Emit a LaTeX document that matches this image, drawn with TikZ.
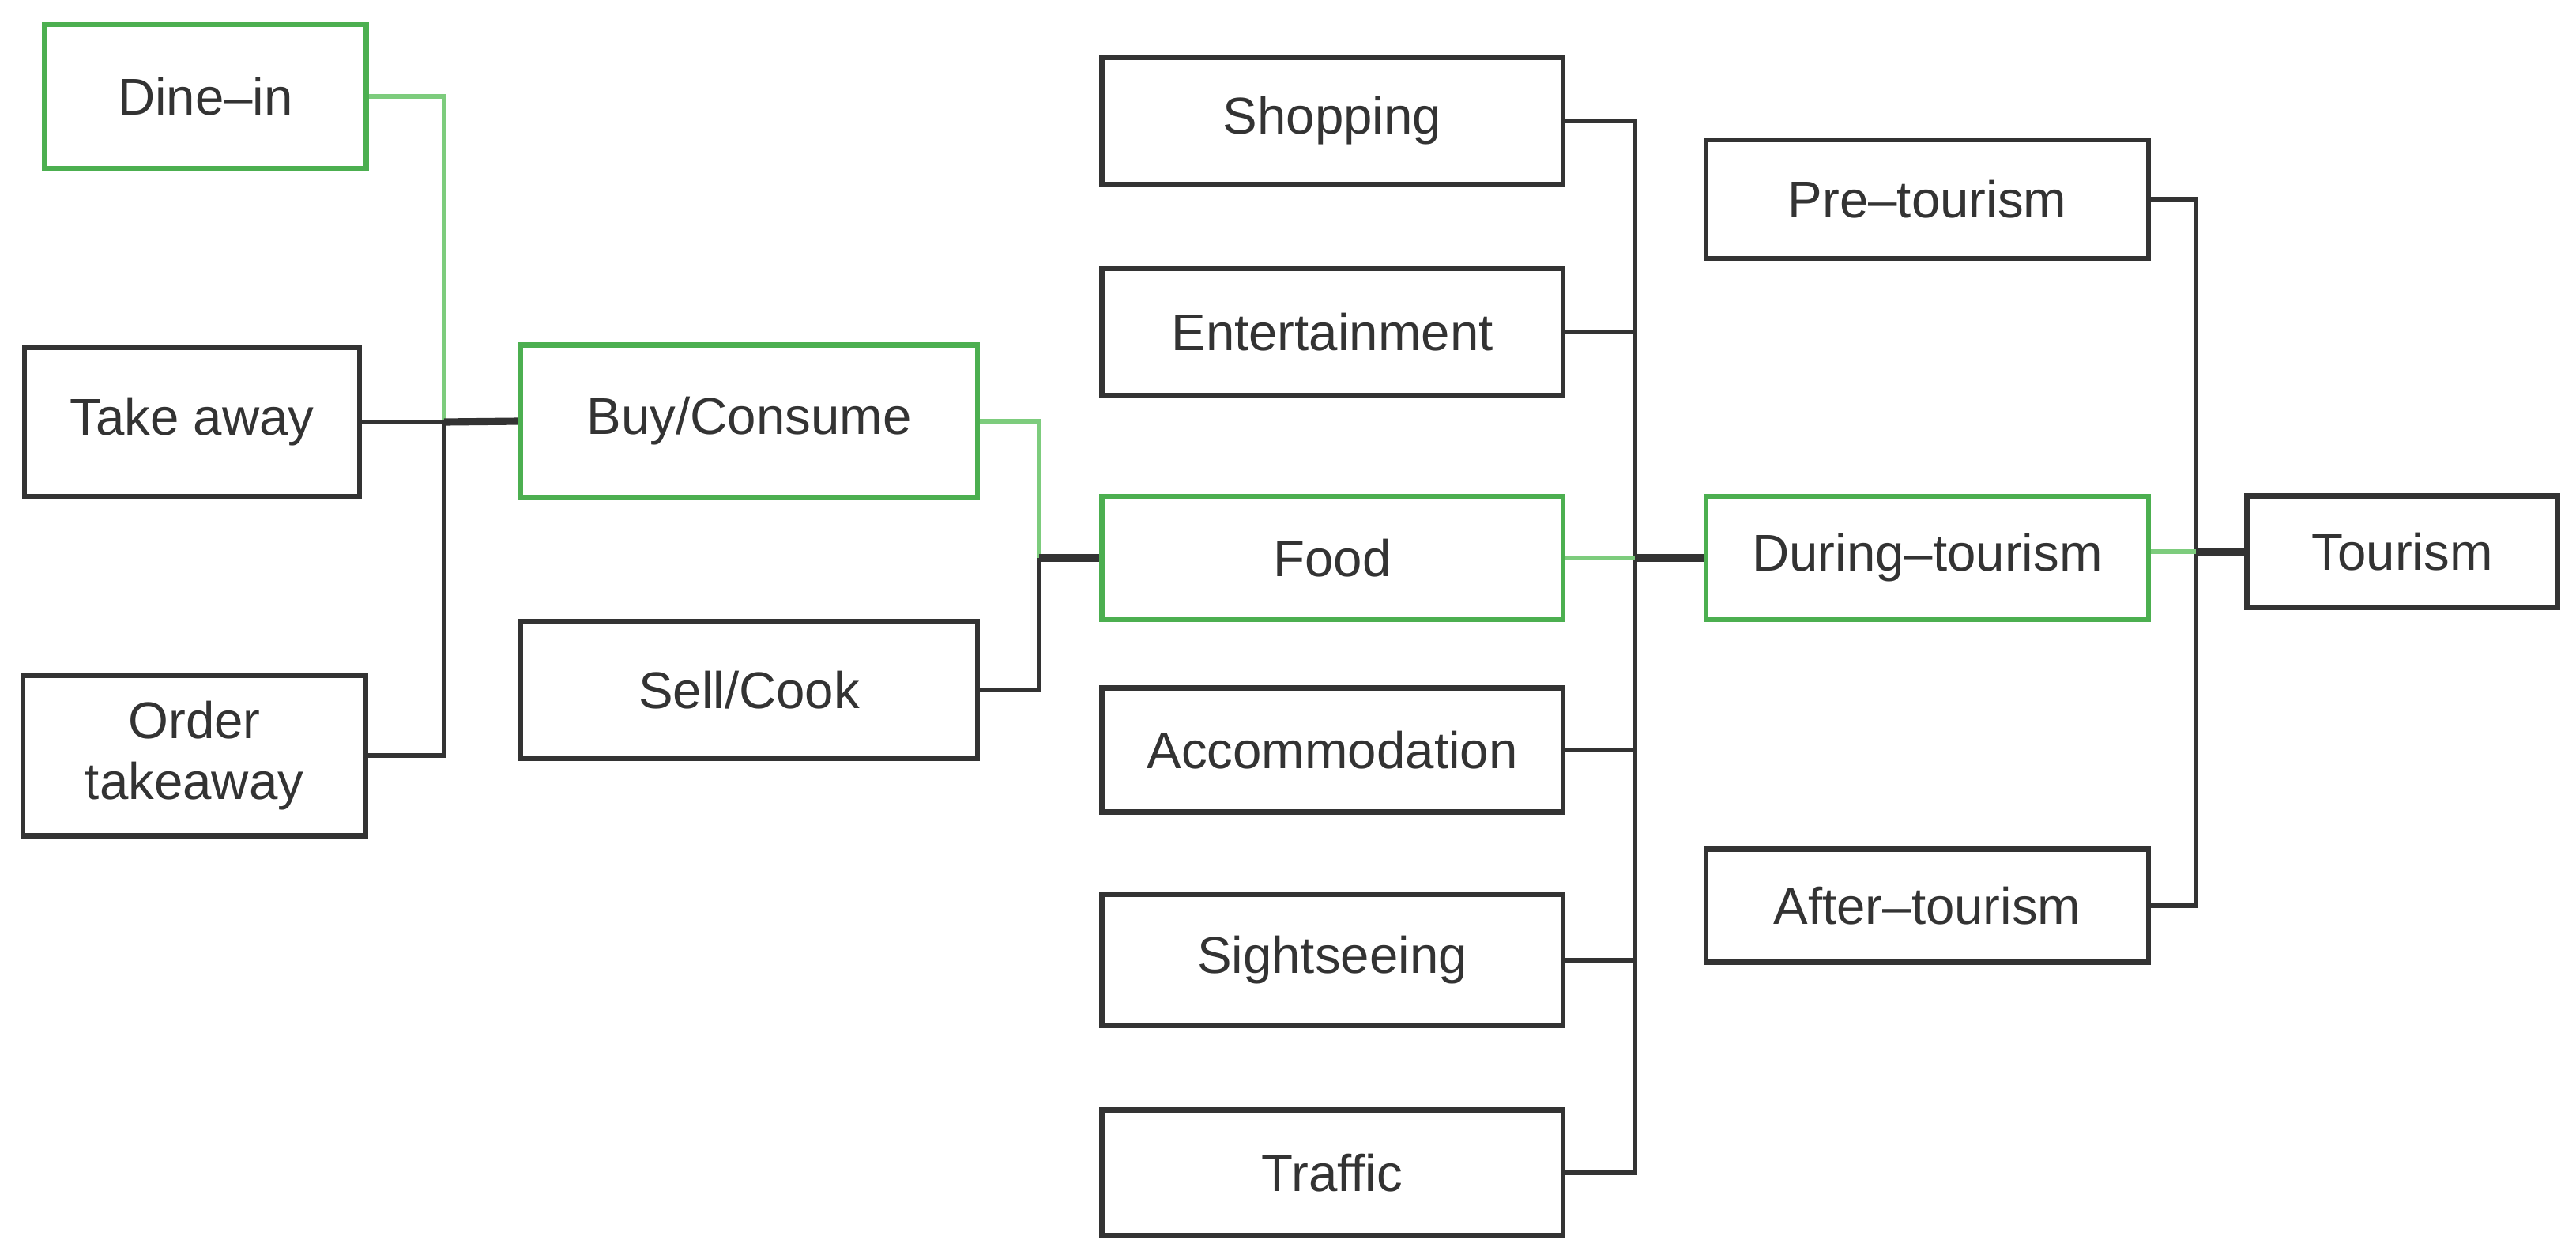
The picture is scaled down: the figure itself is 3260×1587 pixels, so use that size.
\documentclass[tikz,border=0pt]{standalone}
\usepackage{fontspec}
\setmainfont{Liberation Sans}
\definecolor{boxgreen}{RGB}{76,175,80}
\definecolor{wiregreen}{RGB}{125,204,125}
\definecolor{ink}{RGB}{51,51,51}
\begin{document}
\begin{tikzpicture}[x=0.01cm, y=-0.01cm,
  box/.style = {draw = ink, line width = 1.8pt, text = ink, inner sep = 0pt,
                align = center, font = \fontsize{18.6}{22}\selectfont},
  hl/.style = {box, draw = boxgreen},
  wire/.style = {draw = ink, line width = 1.7pt},
  hlwire/.style = {draw = wiregreen, line width = 1.5pt},
  stub/.style = {draw = ink, line width = 2.6pt}]
\useasboundingbox (0,0) rectangle (3260,1587);
% first level
\node (Dine) [hl, minimum width = 4.07cm, minimum height = 1.82cm] at (260,122) {Dine–in};
\node (Take) [box, minimum width = 4.24cm, minimum height = 1.88cm] at (243,534) {Take away};
\node (Order) [box, minimum width = 4.34cm, minimum height = 2.03cm] at (246,956) {Order\\takeaway};
% second level
\node (Buy) [hl, minimum width = 5.78cm, minimum height = 1.93cm] at (948,533) {Buy/Consume};
\node (Sell) [box, minimum width = 5.78cm, minimum height = 1.74cm] at (948,873) {Sell/Cook};
% third level
\node (Shop) [box, minimum width = 5.83cm, minimum height = 1.60cm] at (1686,153) {Shopping};
\node (Ent) [box, minimum width = 5.83cm, minimum height = 1.61cm] at (1686,420) {Entertainment};
\node (Food) [hl, minimum width = 5.83cm, minimum height = 1.56cm] at (1686,706) {Food};
\node (Acc) [box, minimum width = 5.83cm, minimum height = 1.57cm] at (1686,949) {Accommodation};
\node (Sight) [box, minimum width = 5.83cm, minimum height = 1.66cm] at (1686,1215) {Sightseeing};
\node (Traffic) [box, minimum width = 5.83cm, minimum height = 1.59cm] at (1686,1484) {Traffic};
% fourth level
\node (Pre) [box, minimum width = 5.60cm, minimum height = 1.50cm] at (2439,252) {Pre–tourism};
\node (During) [hl, minimum width = 5.60cm, minimum height = 1.56cm] at (2439,706) {During–tourism};
\node (After) [box, minimum width = 5.60cm, minimum height = 1.43cm] at (2439,1146) {After–tourism};
\node (Tourism) [box, minimum width = 3.93cm, minimum height = 1.41cm] at (3040,698) {Tourism};
% junctions
\coordinate (J1) at (562,534);
\coordinate (J2) at (1315,706);
\coordinate (J3) at (2069,706);
\coordinate (J4) at (2779,698);
% connectors
\draw [hlwire] (Dine.east) -| (J1);
\draw [wire] (Take.east) -- (J1);
\draw [wire] (Order.east) -| (J1);
\draw [stub] (J1) -- (Buy.west);
\draw [hlwire] (Buy.east) -| (J2);
\draw [wire] (Sell.east) -| (J2);
\draw [stub] (J2) -- (Food.west);
\foreach \n in {Shop, Ent, Acc, Sight, Traffic}
  \draw [wire] (\n.east) -| (J3);
\draw [hlwire] (Food.east) -- (J3);
\draw [stub] (J3) -- (During.west);
\draw [wire] (Pre.east) -| (J4);
\draw [wire] (After.east) -| (J4);
\draw [hlwire] (During.east |- J4) -- (J4);
\draw [stub] (J4) -- (Tourism.west);
\end{tikzpicture}
\end{document}
